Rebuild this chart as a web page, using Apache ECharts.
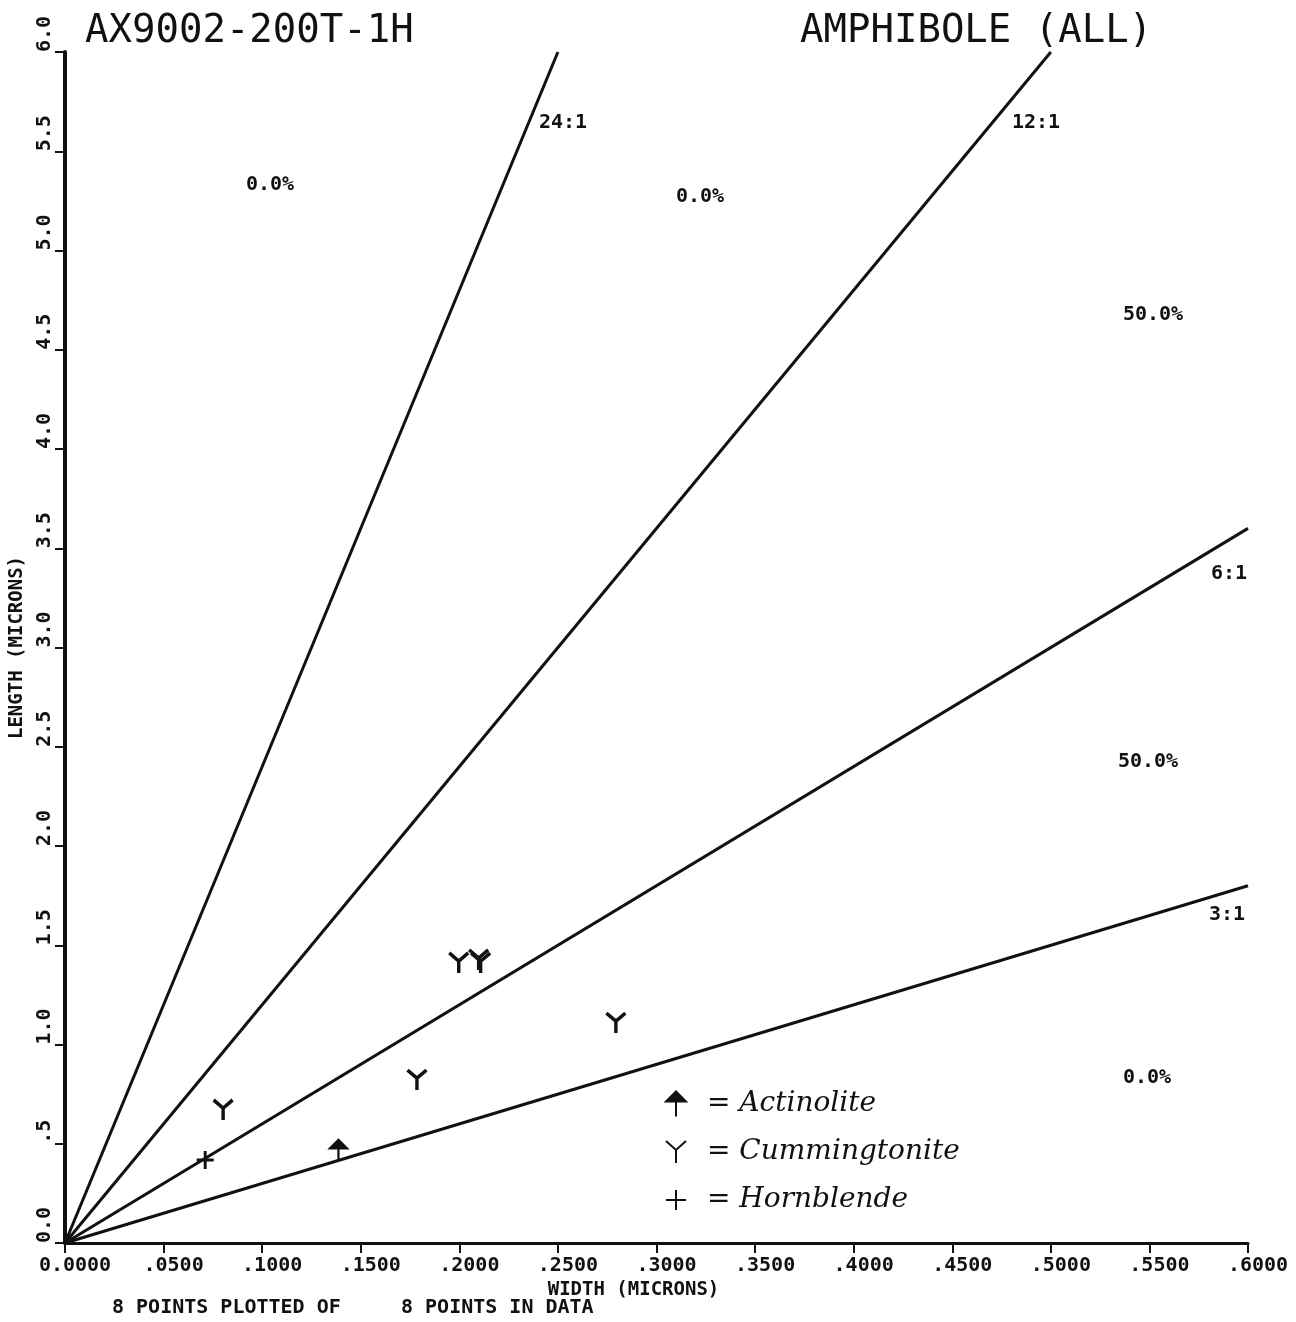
<!DOCTYPE html>
<html>
<head>
<meta charset="utf-8">
<title>AX9002-200T-1H — Amphibole (all)</title>
<script src="https://cdn.jsdelivr.net/npm/echarts@6/dist/echarts.min.js"></script>
<style>
  html, body { margin: 0; padding: 0; background: #fff; }
  #chart { width: 1296px; height: 1322px; }
</style>
</head>
<body>
<div id="chart"></div>
<script>
// Fibre width / length measurements (microns), one pair of arrays per mineral
const cummingtoniteWidth  = [0.0802, 0.1785, 0.1997, 0.2098, 0.2108, 0.2794];
const cummingtoniteLength = [0.670, 0.821, 1.411, 1.426, 1.410, 1.108];
const actinoliteWidth  = [0.1387];
const actinoliteLength = [0.468];
const hornblendeWidth  = [0.0711];
const hornblendeLength = [0.418];

// Aspect-ratio guide lines (length : width)
const ratios = [24, 12, 6, 3];

// Axis ranges and tick labels
const widthMax = 0.6, lengthMax = 6.0;
const widthTicks  = ['0.0000', '.0500', '.1000', '.1500', '.2000', '.2500', '.3000',
                     '.3500', '.4000', '.4500', '.5000', '.5500', '.6000'];
const lengthTicks = ['0.0', '.5', '1.0', '1.5', '2.0', '2.5', '3.0',
                     '3.5', '4.0', '4.5', '5.0', '5.5', '6.0'];

const PLOT = 'DejaVu Sans Mono, Liberation Mono, monospace';
const INK = '#111';

function pairs(xs, ys) { return xs.map((x, i) => [x, ys[i]]); }

const allPoints = [].concat(
  pairs(cummingtoniteWidth, cummingtoniteLength),
  pairs(actinoliteWidth, actinoliteLength),
  pairs(hornblendeWidth, hornblendeLength)
);

// share of fibres falling in each band between the ratio lines (steepest band first)
const bandEdges = [Infinity].concat(ratios, [0]);
const bandShares = [];
for (let b = 0; b < bandEdges.length - 1; b++) {
  const hi = bandEdges[b], lo = bandEdges[b + 1];
  const n = allPoints.filter(p => { const r = p[1] / p[0]; return r < hi && r >= lo; }).length;
  bandShares.push((100 * n / allPoints.length).toFixed(1) + '%');
}
const bandLabelPos = [[270, 185], [700, 197], [1153, 315], [1148, 762], [1147, 1078]];
const ratioLabelPos = [[563, 123], [1036, 123], [1229, 574], [1227, 915]];

const symY = 'path://M0,0L10,9L20,0M10,9L10,22';
const symActinolite = 'path://M0,8L8,0L16,8ZM8,8L8,20';
const symPlus = 'path://M0,8L16,8M8,0L8,16';

const ratioSeries = ratios.map(r => {
  const xEnd = Math.min(widthMax, lengthMax / r);
  return {
    type: 'line', name: r + ':1', silent: true, symbol: 'none',
    lineStyle: { color: INK, width: 3 },
    data: [[0, 0], [xEnd, xEnd * r]],
    z: 2
  };
});

const graphics = [];
bandShares.forEach((t, i) => graphics.push({
  type: 'text', x: bandLabelPos[i][0], y: bandLabelPos[i][1],
  style: { text: t, font: 'bold 20px ' + PLOT, fill: INK, align: 'center', verticalAlign: 'middle' }
}));
ratios.forEach((r, i) => graphics.push({
  type: 'text', x: ratioLabelPos[i][0], y: ratioLabelPos[i][1],
  style: { text: r + ':1', font: 'bold 20px ' + PLOT, fill: INK, align: 'center', verticalAlign: 'middle' }
}));
graphics.push(
  { type: 'text', left: 85, top: 12,
    style: { text: 'AX9002-200T-1H', font: '39px ' + PLOT, fill: INK } },
  { type: 'text', left: 800, top: 12,
    style: { text: 'AMPHIBOLE (ALL)', font: '39px ' + PLOT, fill: INK } },
  { type: 'text', left: 112, top: 1298,
    style: { text: allPoints.length + ' POINTS PLOTTED OF     ' + allPoints.length + ' POINTS IN DATA',
             font: 'bold 20px ' + PLOT, fill: INK } }
);

const chart = echarts.init(document.getElementById('chart'), null, { renderer: 'canvas' });
chart.setOption({
  backgroundColor: '#fff',
  animation: false,
  grid: { left: 58, top: 52, width: 1190, height: 1191, containLabel: false },
  xAxis: {
    type: 'value', min: 0, max: widthMax, interval: 0.05,
    name: 'WIDTH (MICRONS)', nameLocation: 'middle', nameGap: 33,
    nameTextStyle: { fontFamily: PLOT, fontSize: 19, fontWeight: 'bold', color: INK, padding: [0, 46, 0, 0] },
    axisLine: { lineStyle: { color: INK, width: 3 } },
    axisTick: { length: 10, lineStyle: { color: INK, width: 2 } },
    axisLabel: {
      margin: 13, color: INK, fontFamily: PLOT, fontSize: 20, fontWeight: 'bold',
      padding: [0, 0, 0, 20],
      formatter: v => widthTicks[Math.round(v / 0.05)]
    },
    splitLine: { show: false }
  },
  yAxis: {
    type: 'value', min: 0, max: lengthMax, interval: 0.5,
    name: 'LENGTH (MICRONS)', nameLocation: 'middle', nameGap: 38,
    nameTextStyle: { fontFamily: PLOT, fontSize: 19, fontWeight: 'bold', color: INK },
    axisLine: { lineStyle: { color: INK, width: 4 } },
    axisTick: { length: 10, lineStyle: { color: INK, width: 2 } },
    axisLabel: {
      rotate: 90, margin: 10, align: 'left', verticalAlign: 'bottom',
      color: INK, fontFamily: PLOT, fontSize: 20, fontWeight: 'bold',
      formatter: v => lengthTicks[Math.round(v / 0.5)]
    },
    splitLine: { show: false }
  },
  legend: {
    orient: 'vertical', left: 660, top: 1085, itemWidth: 20, itemHeight: 28, itemGap: 20,
    data: ['Actinolite', 'Cummingtonite', 'Hornblende'],
    formatter: n => '= ' + n,
    textStyle: { fontFamily: 'DejaVu Serif', fontStyle: 'italic', fontSize: 28, color: INK, padding: [0, 0, 0, 16] },
    selectedMode: false
  },
  graphic: graphics,
  series: ratioSeries.concat([
    {
      type: 'scatter', name: 'Actinolite', symbol: symActinolite, symbolSize: [16, 20],
      itemStyle: { color: INK, borderColor: INK, borderWidth: 2.5, opacity: 1 },
      data: pairs(actinoliteWidth, actinoliteLength), z: 5
    },
    {
      type: 'scatter', name: 'Cummingtonite', symbol: symY, symbolSize: [19, 20],
      itemStyle: { color: 'rgba(0,0,0,0)', borderColor: INK, borderWidth: 3.5, opacity: 1 },
      data: pairs(cummingtoniteWidth, cummingtoniteLength), z: 5
    },
    {
      type: 'scatter', name: 'Hornblende', symbol: symPlus, symbolSize: [17, 18],
      itemStyle: { color: 'rgba(0,0,0,0)', borderColor: INK, borderWidth: 3, opacity: 1 },
      data: pairs(hornblendeWidth, hornblendeLength), z: 5
    }
  ])
});
</script>
</body>
</html>
